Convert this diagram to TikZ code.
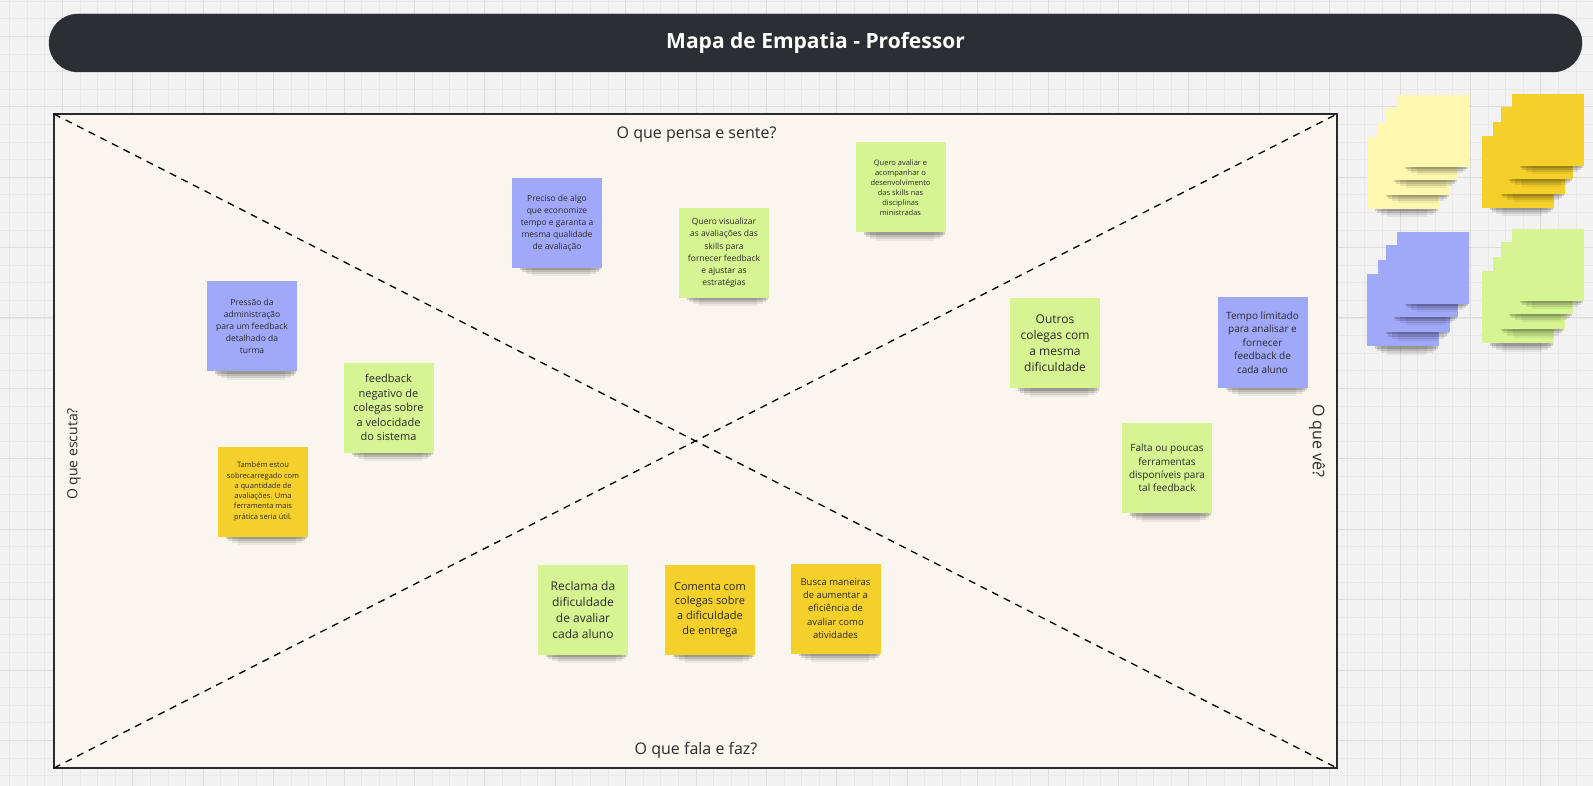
\documentclass[tikz,border=0pt]{standalone}
\usepackage{fontspec}
\setmainfont{Open Sans}
\definecolor{bg}{HTML}{F2F2F2}
\definecolor{gridminor}{HTML}{E8E8E8}
\definecolor{gridmajor}{HTML}{DCDCDC}
\definecolor{barcol}{HTML}{2D2E33}
\definecolor{framefill}{HTML}{FAF6EF}
\definecolor{framedraw}{HTML}{2A2A2A}
\definecolor{blueS}{RGB}{160,168,250}
\definecolor{greenS}{RGB}{214,245,146}
\definecolor{yellowS}{RGB}{245,208,42}
\definecolor{lightyS}{RGB}{254,247,176}
\definecolor{notetext}{HTML}{2A2A2A}
\tikzset{
  minorgrid/.style={draw=gridminor, line width=0.8pt},
  majorgrid/.style={draw=gridmajor, line width=1pt},
  titlebar/.style={fill=barcol, draw=barcol, rounded corners=29pt, minimum width=1533pt, minimum height=58pt, inner sep=0pt, text=white, font=\fontsize{21}{25}\selectfont\bfseries},
  mapframe/.style={fill=framefill, draw=framedraw, line width=1.6pt, minimum width=1283pt, minimum height=654pt, inner sep=0pt, outer sep=0pt, anchor=north west},
  diag/.style={draw=black, line width=1.3pt, dash pattern=on 7pt off 6pt},
  quadlabel/.style={text=notetext, font=\fontsize{16}{19}\selectfont, inner sep=0pt},
  note/.style={minimum width=90pt, minimum height=90pt, inner sep=0pt, align=center, text=notetext},
  sheet/.style={minimum width=72pt, minimum height=72pt, inner sep=0pt},
  shadowfill/.style={fill=black, draw=none},
}
% drop shadow under the bottom edge of a square of centre (#1,#2), half side #3
\newcommand{\dropshadow}[3]{%
  \fill[shadowfill, opacity=.16] ({#1-#3+8},{#2+#3-8}) rectangle ({#1+#3-1},{#2+#3+2.5});
  \fill[shadowfill, opacity=.12] ({#1-#3+10},{#2+#3-8}) rectangle ({#1+#3-3},{#2+#3+4.5});
  \fill[shadowfill, opacity=.09] ({#1-#3+14},{#2+#3-8}) rectangle ({#1+#3-6},{#2+#3+6.5});
  \fill[shadowfill, opacity=.06] ({#1-#3+20},{#2+#3-8}) rectangle ({#1+#3-12},{#2+#3+8.5});
}
% name, x, y, colour, font size, leading, text
\newcommand{\stickynote}[7]{%
  \dropshadow{#2}{#3}{45}
  \node[note, fill=#4, font=\fontsize{#5}{#6}\selectfont] (#1) at (#2,#3) {#7};
}
% name, x, y, colour
\newcommand{\stacksheet}[4]{%
  \dropshadow{#2}{#3}{36}
  \node[sheet, fill=#4] (#1) at (#2,#3) {};
}
\begin{document}
\begin{tikzpicture}[x=1pt,y=-1pt]
\useasboundingbox (0,0) rectangle (1593,786);
\fill[bg] (0,0) rectangle (1593,786);
\foreach \i in {0,...,91} \draw[minorgrid] ({-8+17.6*\i},0) -- ({-8+17.6*\i},786);
\foreach \i in {0,...,45} \draw[minorgrid] (0,{1.2+17.6*\i}) -- (1593,{1.2+17.6*\i});
\foreach \i in {0,...,23} \draw[majorgrid] ({-8+70.4*\i},0) -- ({-8+70.4*\i},786);
\foreach \i in {0,...,11} \draw[majorgrid] (0,{36.4+70.4*\i}) -- (1593,{36.4+70.4*\i});

% title
\node[titlebar] (title) at (815.5,43) {Mapa de Empatia - Professor};

% frame
\node[mapframe] (frame) at (54,114) {};
\draw[diag] (frame.north west) -- (frame.south east);
\draw[diag] (frame.south west) -- (frame.north east);

% quadrant labels
\node[quadlabel] (lthink) at (696.5,135) {O que pensa e sente?};
\node[quadlabel] (lsay) at (696,750) {O que fala e faz?};
\node[quadlabel, rotate=90, font=\fontsize{14}{17}\selectfont] (lhear) at (74,454) {O que escuta?};
\node[quadlabel, rotate=-90] (lsee) at (1317,441) {O que vê?};

% notes
\stickynote{n1}{252}{326}{blueS}{8.5}{12}{Pressão da\\administração\\para um feedback\\detalhado da\\turma}
\stickynote{n2}{388.5}{407.5}{greenS}{11}{14.5}{feedback\\negativo de\\colegas sobre\\a velocidade\\do sistema}
\stickynote{n3}{263}{491.5}{yellowS}{7.5}{10.3}{Também estou\\sobrecarregado com\\a quantidade de\\avaliações. Uma\\ferramenta mais\\prática seria útil.}
\stickynote{n4}{557}{223}{blueS}{8.5}{12}{Preciso de algo\\que economize\\tempo e garanta a\\mesma qualidade\\de avaliação}
\stickynote{n5}{724}{253}{greenS}{8.5}{12.3}{Quero visualizar\\as avaliações das\\skills para\\fornecer feedback\\e ajustar as\\estratégias}
\stickynote{n6}{900.5}{187.5}{greenS}{7.5}{10}{Quero avaliar e\\acompanhar o\\desenvolvimento\\das skills nas\\disciplinas\\ministradas}
\stickynote{n7}{1055}{343}{greenS}{12}{16}{Outros\\colegas com\\a mesma\\dificuldade}
\stickynote{n8}{1262.5}{342.5}{blueS}{10}{13.6}{Tempo limitado\\para analisar e\\fornecer\\feedback de\\cada aluno}
\stickynote{n9}{1167}{468}{greenS}{10}{13.3}{Falta ou poucas\\ferramentas\\disponíveis para\\tal feedback}
\stickynote{n10}{583}{609.5}{greenS}{12}{16}{Reclama da\\dificuldade\\de avaliar\\cada aluno}
\stickynote{n11}{710}{609.5}{yellowS}{11}{14.7}{Comenta com\\colegas sobre\\a dificuldade\\de entrega}
\stickynote{n12}{835.5}{608.5}{yellowS}{9.5}{13.3}{Busca maneiras\\de aumentar a\\eficiência de\\avaliar como\\atividades}

% sticky stacks (back to front)
\foreach \c/\px/\py/\nm in {lightyS/1433/131/ly, yellowS/1548/130/dy, blueS/1433/268/bl, greenS/1548/265/gr}{
  \stacksheet{\nm4}{\px-30}{\py+42}{\c}
  \stacksheet{\nm3}{\px-19}{\py+28}{\c}
  \stacksheet{\nm2}{\px-11}{\py+13}{\c}
  \stacksheet{\nm1}{\px}{\py}{\c}
}
\end{tikzpicture}
\end{document}
